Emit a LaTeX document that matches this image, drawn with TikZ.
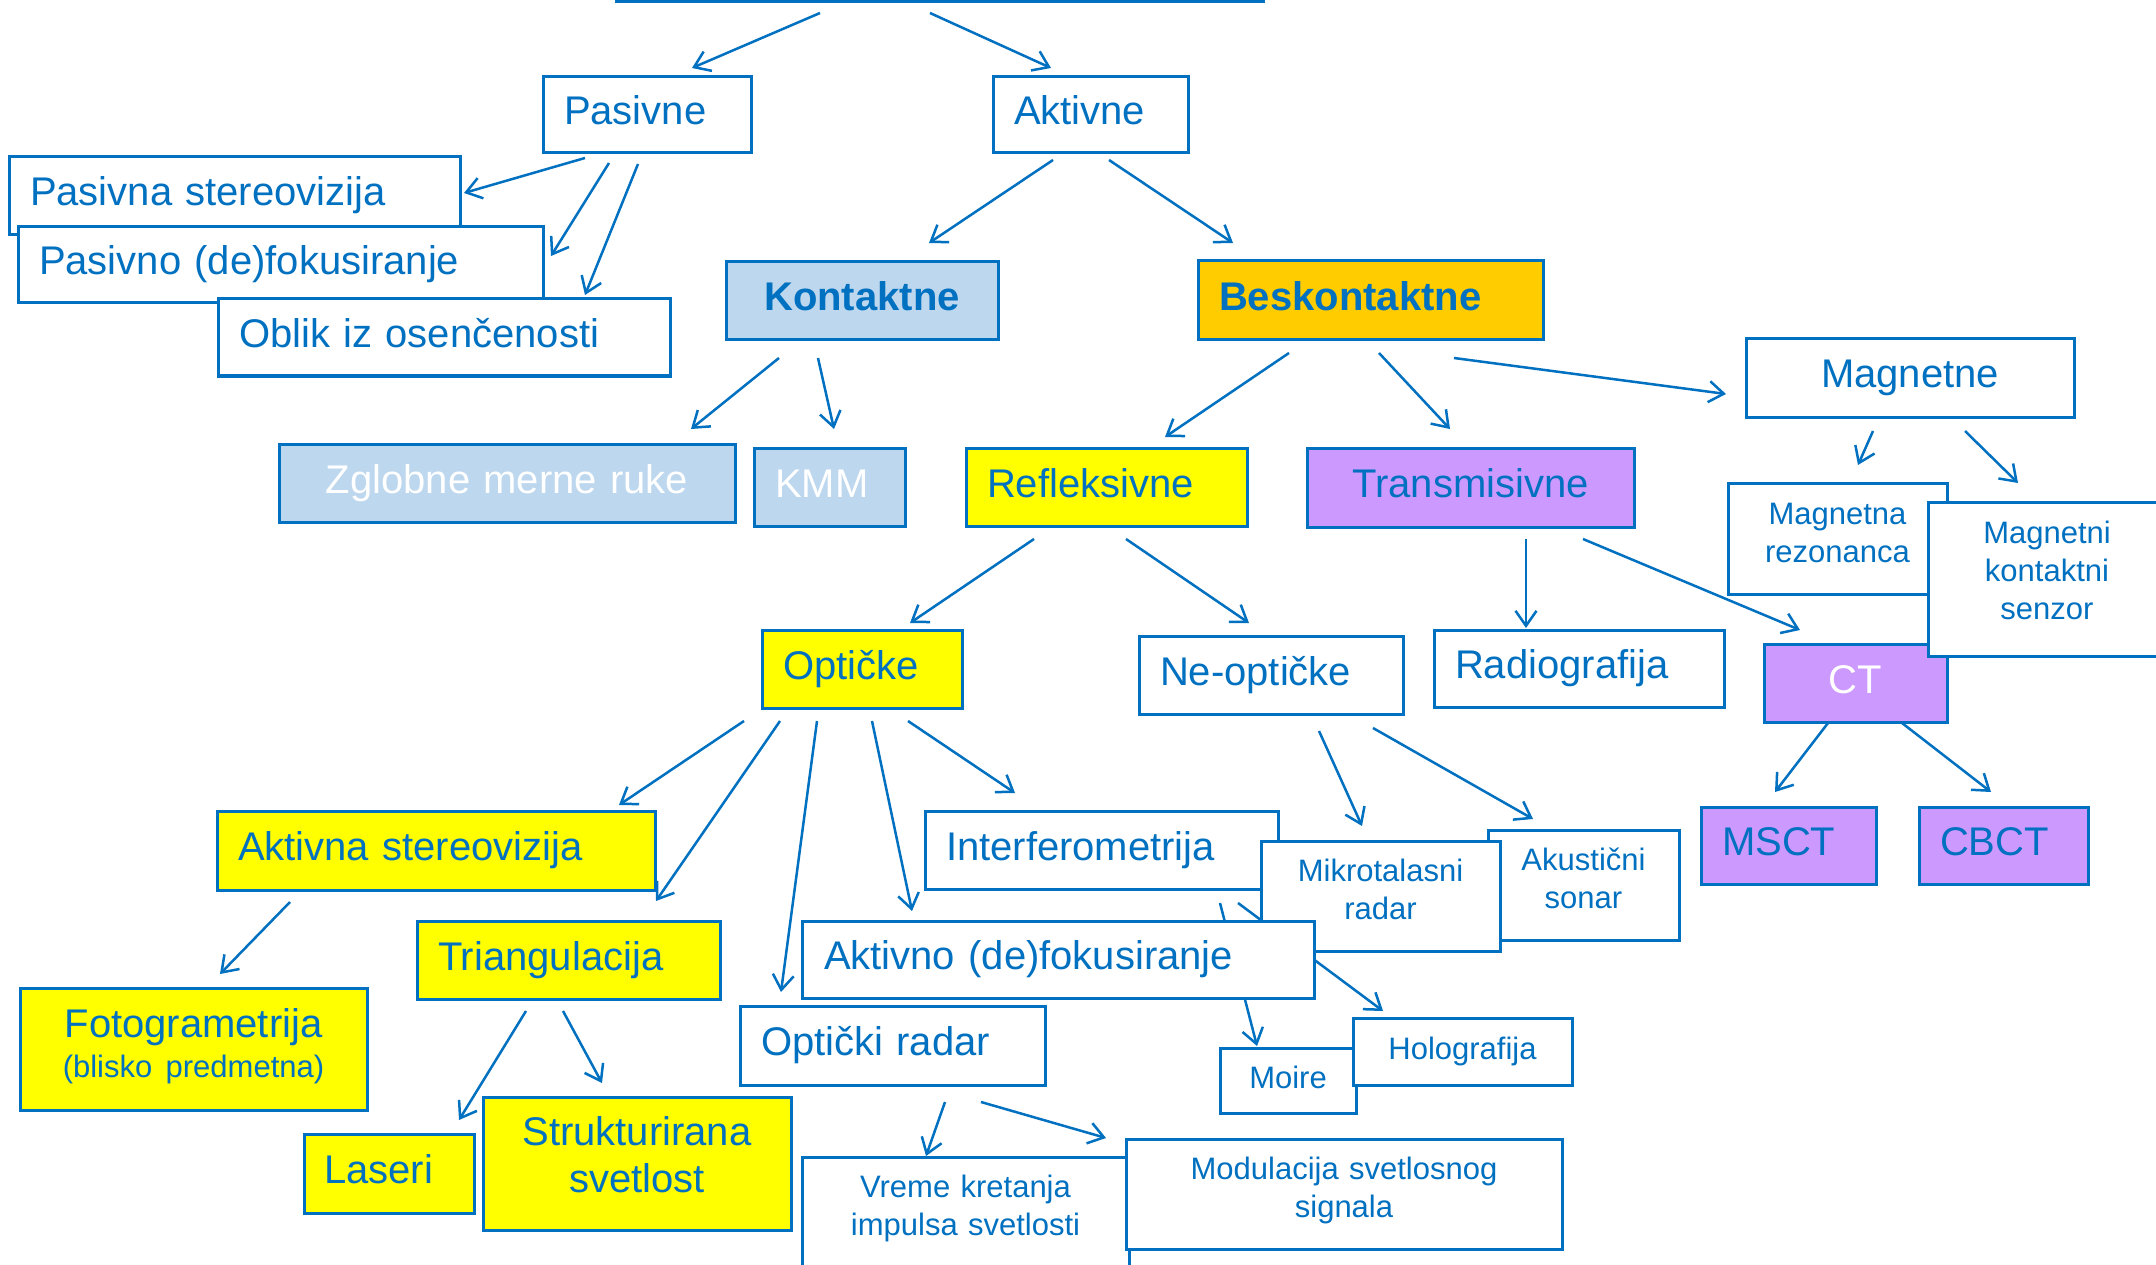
\documentclass[tikz,border=0pt]{standalone}
\usepackage{fontspec}
\setmainfont{Liberation Sans}
\usetikzlibrary{arrows.meta}
\definecolor{tblue}{HTML}{0070C0}
\definecolor{kblue}{HTML}{BDD7EE}
\definecolor{gold}{HTML}{FFCC00}
\definecolor{yel}{HTML}{FFFF00}
\definecolor{lila}{HTML}{CC99FF}
\newcommand\fbig{\fontsize{40pt}{47pt}\selectfont}
\newcommand\fsmall{\fontsize{31pt}{38pt}\selectfont}
\pgfdeclarelayer{back}
\pgfdeclarelayer{conn}
\pgfsetlayers{back,conn,main}
\tikzset{
  bx/.style={draw=tblue, line width=3pt, fill=white, text=tblue, inner sep=0pt, outer sep=0pt, anchor=north west},
  one/.style={font=\fbig, text height=29pt, text depth=9pt},
  lft/.style={align=left},
  ctr/.style={align=center},
  sm1/.style={font=\fsmall, text height=22pt, text depth=7pt, align=center},
  sm2/.style={font=\fsmall, text height=20pt, text depth=49pt, align=center},
  arr/.style={draw=tblue, line width=2.5pt, -{Straight Barb[length=15pt,width=21pt]}},
}
\begin{document}
\begin{tikzpicture}[x=1pt, y=-1pt]
\useasboundingbox (0,0) rectangle (2156,1265);
\begin{pgfonlayer}{back}
  \fill[white] (0,0) rectangle (2156,1265);
\end{pgfonlayer}
\clip (0,0) rectangle (2156,1265);

% top level
\node[bx, minimum width=647pt, minimum height=81.5pt] (top) at (616,-80) {};
\node[bx, one, lft, minimum width=208pt, minimum height=76pt, text width=166pt] (pasivne) at (543,77) {Pasivne};
\node[bx, one, lft, minimum width=195pt, minimum height=76pt, text width=153pt] (aktivne) at (993,77) {Aktivne};

% passive methods
\node[bx, one, lft, minimum width=451pt, minimum height=78pt, text width=409pt] (pasSt) at (9,157) {Pasivna stereovizija};
\node[bx, one, lft, minimum width=525pt, minimum height=76pt, text width=483pt] (pasDef) at (18,227) {Pasivno (de)fokusiranje};
\node[bx, one, lft, minimum width=452pt, minimum height=77pt, text width=410pt] (oblik) at (218,299) {Oblik iz osenčenosti};

% active methods
\node[bx, one, ctr, fill=kblue, font=\fbig\bfseries, minimum width=272pt, minimum height=78pt, text width=252pt] (kont) at (726,262) {Kontaktne};
\node[bx, one, lft, fill=gold, font=\fbig\bfseries, minimum width=345pt, minimum height=79pt, text width=303pt] (besk) at (1198,261) {Beskontaktne};
\node[bx, one, ctr, minimum width=328pt, minimum height=78pt, text width=308pt] (magn) at (1746,339) {Magnetne};
\node[bx, one, ctr, fill=kblue, text=white, minimum width=456pt, minimum height=78pt, text width=436pt] (zglob) at (279,444) {Zglobne merne ruke};
\node[bx, one, lft, fill=kblue, text=white, minimum width=151pt, minimum height=78pt, text width=109pt] (kmm) at (754,448) {KMM};
\node[bx, one, lft, fill=yel, minimum width=281pt, minimum height=78pt, text width=239pt] (refl) at (966,448) {Refleksivne};
\node[bx, one, ctr, fill=lila, minimum width=327pt, minimum height=79pt, text width=307pt] (trans) at (1307,448) {Transmisivne};
\node[bx, sm2, minimum width=219pt, minimum height=111pt, text width=205pt] (mrez) at (1728,483) {Magnetna\\rezonanca};
\node[bx, one, ctr, fill=lila, text=white, minimum width=183pt, minimum height=78pt, text width=163pt] (ct) at (1764,644) {CT};
\node[bx, sm2, text depth=92pt, minimum width=238pt, minimum height=154pt, text width=218pt] (mkont) at (1928,502) {Magnetni\\kontaktni\\senzor};

% reflective / transmissive
\node[bx, one, lft, fill=yel, minimum width=200pt, minimum height=78pt, text width=158pt] (opt) at (762,630) {Optičke};
\node[bx, one, lft, minimum width=264pt, minimum height=78pt, text width=222pt] (neopt) at (1139,636) {Ne-optičke};
\node[bx, one, lft, minimum width=290pt, minimum height=77pt, text width=248pt] (radio) at (1434,630) {Radiografija};
\node[bx, one, lft, fill=lila, minimum width=175pt, minimum height=77pt, text width=133pt] (msct) at (1701,807) {MSCT};
\node[bx, one, lft, fill=lila, minimum width=169pt, minimum height=77pt, text width=127pt] (cbct) at (1919,807) {CBCT};

% optical methods
\node[bx, one, lft, fill=yel, minimum width=438pt, minimum height=79pt, text width=396pt] (astereo) at (217,811) {Aktivna stereovizija};
\node[bx, one, lft, minimum width=353pt, minimum height=78pt, text width=311pt] (interf) at (925,811) {Interferometrija};
\node[bx, sm2, minimum width=191pt, minimum height=110pt, text width=177pt] (akust) at (1488,830) {Akustični\\sonar};
\node[bx, sm2, minimum width=239pt, minimum height=110pt, text width=225pt] (mikro) at (1261,841) {Mikrotalasni\\radar};
\node[bx, one, lft, fill=yel, minimum width=303pt, minimum height=78pt, text width=261pt] (triang) at (417,921) {Triangulacija};
\node[bx, one, lft, minimum width=512pt, minimum height=77pt, text width=468pt] (adef) at (802,921) {Aktivno (de)fokusiranje};
\node[bx, ctr, font=\fbig, fill=yel, text height=29pt, text depth=53pt, minimum width=347pt, minimum height=122pt, text width=327pt] (foto) at (20,988) {Fotogrametrija\\[-7pt]{\fsmall (blisko predmetna)}};
\node[bx, one, lft, minimum width=305pt, minimum height=79pt, text width=263pt] (orad) at (740,1006) {Optički radar};
\node[bx, one, lft, fill=yel, minimum width=170pt, minimum height=79pt, text width=130pt] (laser) at (304,1134) {Laseri};
\node[bx, ctr, font=\fbig, fill=yel, text height=29pt, text depth=66pt, minimum width=308pt, minimum height=133pt, text width=288pt] (strukt) at (483,1097) {Strukturirana\\svetlost};
\node[bx, sm1, minimum width=136pt, minimum height=65pt, text width=122pt] (moire) at (1220,1048) {Moire};
\node[bx, sm1, minimum width=219pt, minimum height=67pt, text width=205pt] (holo) at (1353,1018) {Holografija};
\node[bx, sm2, text depth=100pt, minimum width=327pt, minimum height=160pt, text width=313pt] (vreme) at (802,1157) {Vreme kretanja\\impulsa svetlosti};
\node[bx, sm2, minimum width=436pt, minimum height=110pt, text width=422pt] (modul) at (1126,1139) {Modulacija svetlosnog\\signala};

% connectors, kept beneath the boxes
\begin{pgfonlayer}{conn}
\draw[arr] ([shift={(204,11.5)}]top.south west) -- ([shift={(149,-9)}]pasivne.north west);
\draw[arr] ([shift={(314,11.5)}]top.south west) -- ([shift={(58,-9)}]aktivne.north west);
\draw[arr] ([shift={(42,5)}]pasivne.south west) -- ([shift={(4,36)}]pasSt.north east);
\draw[arr] ([shift={(66,10)}]pasivne.south west) -- ([shift={(8,29)}]pasDef.north east);
\draw[arr] ([shift={(95,11)}]pasivne.south west) -- ([shift={(367,-4)}]oblik.north west);
\draw[arr] ([shift={(60,7)}]aktivne.south west) -- ([shift={(203,-19)}]kont.north west);
\draw[arr] ([shift={(116,7)}]aktivne.south west) -- ([shift={(35,-18)}]besk.north west);
\draw[arr] ([shift={(53,18)}]kont.south west) -- ([shift={(412,-15)}]zglob.north west);
\draw[arr] ([shift={(92,18)}]kont.south west) -- ([shift={(80,-19)}]kmm.north west);
\draw[arr] ([shift={(91,13)}]besk.south west) -- ([shift={(199,-11)}]refl.north west);
\draw[arr] ([shift={(181,13)}]besk.south west) -- ([shift={(143,-19)}]trans.north west);
\draw[arr] ([shift={(256,18)}]besk.south west) -- ([shift={(-20,55)}]magn.north west);
\draw[arr] ([shift={(127,14)}]magn.south west) -- ([shift={(130,-18)}]mrez.north west);
\draw[arr] ([shift={(219,14)}]magn.south west) -- ([shift={(90,-19)}]mkont.north west);
\draw[arr] ([shift={(68,13)}]refl.south west) -- ([shift={(148,-7)}]opt.north west);
\draw[arr] ([shift={(160,13)}]refl.south west) -- ([shift={(110,-13)}]neopt.north west);
\draw[arr] ([shift={(219,12)}]trans.south west) -- ([shift={(92,-2)}]radio.north west);
\draw[arr] ([shift={(276,12)}]trans.south west) -- ([shift={(36,-14)}]ct.north west);
\draw[arr] ([shift={(64,1)}]ct.south west) -- ([shift={(74,-15)}]msct.north west);
\draw[arr] ([shift={(138,1)}]ct.south west) -- ([shift={(72,-15)}]cbct.north west);
\draw[arr] ([shift={(-18,13)}]opt.south west) -- ([shift={(402,-6)}]astereo.north west);
\draw[arr] ([shift={(18,13)}]opt.south west) -- ([shift={(239,-20)}]triang.north west);
\draw[arr] ([shift={(55,13)}]opt.south west) -- ([shift={(41,-14)}]orad.north west);
\draw[arr] ([shift={(110,13)}]opt.south west) -- ([shift={(110,-10)}]adef.north west);
\draw[arr] ([shift={(146,13)}]opt.south west) -- ([shift={(90,-18)}]interf.north west);
\draw[arr] ([shift={(73,12)}]astereo.south west) -- ([shift={(200,-14)}]foto.north west);
\draw[arr] ([shift={(109,12)}]triang.south west) -- ([shift={(155,-14)}]laser.north west);
\draw[arr] ([shift={(146,12)}]triang.south west) -- ([shift={(119,-14)}]strukt.north west);
\draw[arr] ([shift={(180,17)}]neopt.south west) -- ([shift={(101,-15)}]mikro.north west);
\draw[arr] ([shift={(234,14)}]neopt.south west) -- ([shift={(45,-11)}]akust.north west);
\draw[arr] ([shift={(295,14)}]interf.south west) -- ([shift={(37,-2)}]moire.north west);
\draw[arr] ([shift={(313,14)}]interf.south west) -- ([shift={(30,-7)}]holo.north west);
\draw[arr] ([shift={(205,17)}]orad.south west) -- ([shift={(124,-1)}]vreme.north west);
\draw[arr] ([shift={(241,17)}]orad.south west) -- ([shift={(-20,-1)}]modul.north west);
\end{pgfonlayer}
\end{tikzpicture}
\end{document}
